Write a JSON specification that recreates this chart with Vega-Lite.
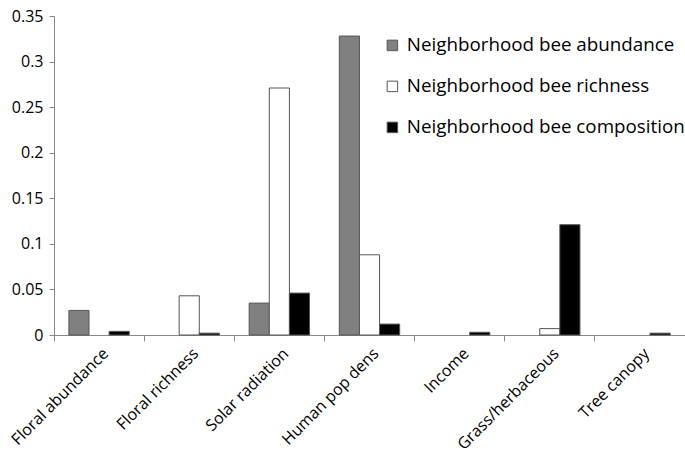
{
  "$schema": "https://vega.github.io/schema/vega-lite/v6.json",
  "width": 631,
  "height": 319,
  "autosize": {"type": "none"},
  "padding": {"left": 54, "top": 16, "right": 0, "bottom": 118},
  "background": "white",
  "config": {"view": {"stroke": null}, "font": "Open Sans"},
  "data": {
    "values": [
      {"factor": "Floral abundance", "series": "Neighborhood bee abundance", "value": 0.027},
      {"factor": "Floral abundance", "series": "Neighborhood bee richness", "value": 0},
      {"factor": "Floral abundance", "series": "Neighborhood bee composition", "value": 0.004},
      {"factor": "Floral richness", "series": "Neighborhood bee abundance", "value": 0},
      {"factor": "Floral richness", "series": "Neighborhood bee richness", "value": 0.043},
      {"factor": "Floral richness", "series": "Neighborhood bee composition", "value": 0.002},
      {"factor": "Solar radiation", "series": "Neighborhood bee abundance", "value": 0.035},
      {"factor": "Solar radiation", "series": "Neighborhood bee richness", "value": 0.271},
      {"factor": "Solar radiation", "series": "Neighborhood bee composition", "value": 0.046},
      {"factor": "Human pop dens", "series": "Neighborhood bee abundance", "value": 0.328},
      {"factor": "Human pop dens", "series": "Neighborhood bee richness", "value": 0.088},
      {"factor": "Human pop dens", "series": "Neighborhood bee composition", "value": 0.012},
      {"factor": "Income", "series": "Neighborhood bee abundance", "value": 0},
      {"factor": "Income", "series": "Neighborhood bee richness", "value": 0},
      {"factor": "Income", "series": "Neighborhood bee composition", "value": 0.003},
      {"factor": "Grass/herbaceous", "series": "Neighborhood bee abundance", "value": 0},
      {"factor": "Grass/herbaceous", "series": "Neighborhood bee richness", "value": 0.007},
      {"factor": "Grass/herbaceous", "series": "Neighborhood bee composition", "value": 0.121},
      {"factor": "Tree canopy", "series": "Neighborhood bee abundance", "value": 0},
      {"factor": "Tree canopy", "series": "Neighborhood bee richness", "value": 0},
      {"factor": "Tree canopy", "series": "Neighborhood bee composition", "value": 0.002}
    ]
  },
  "mark": {"type": "bar", "strokeWidth": 1},
  "encoding": {
    "x": {
      "field": "factor",
      "type": "nominal",
      "sort": ["Floral abundance", "Floral richness", "Solar radiation", "Human pop dens", "Income", "Grass/herbaceous", "Tree canopy"],
      "scale": {"paddingInner": 0, "paddingOuter": 0},
      "axis": {
        "title": null,
        "bandPosition": 0,
        "labelOffset": 1,
        "labelAngle": -45,
        "labelFontSize": 16,
        "labelColor": "black",
        "domainColor": "#888",
        "tickColor": "#888",
        "tickSize": 6,
        "labelPadding": 4
      }
    },
    "xOffset": {
      "field": "series",
      "type": "nominal",
      "sort": ["Neighborhood bee abundance", "Neighborhood bee richness", "Neighborhood bee composition"],
      "scale": {"paddingInner": 0, "paddingOuter": 0.74}
    },
    "y": {
      "field": "value",
      "type": "quantitative",
      "scale": {"domain": [0, 0.35], "nice": false},
      "axis": {
        "title": null,
        "values": [0, 0.05, 0.1, 0.15, 0.2, 0.25, 0.3, 0.35],
        "format": "~g",
        "grid": false,
        "labelFontSize": 16,
        "labelColor": "black",
        "domainColor": "#888",
        "tickColor": "#888",
        "tickSize": 5,
        "labelPadding": 6
      }
    },
    "stroke": {
      "condition": {"test": "datum.value == 0", "value": null},
      "value": "#555"
    },
    "fill": {
      "field": "series",
      "type": "nominal",
      "sort": ["Neighborhood bee abundance", "Neighborhood bee richness", "Neighborhood bee composition"],
      "scale": {
        "domain": ["Neighborhood bee abundance", "Neighborhood bee richness", "Neighborhood bee composition"],
        "range": ["#808080", "#ffffff", "#000000"]
      },
      "legend": {
        "title": null,
        "orient": "none",
        "legendX": 329,
        "legendY": 20,
        "symbolType": "square",
        "symbolSize": 110,
        "symbolStrokeColor": "#555",
        "symbolStrokeWidth": 1,
        "labelFontSize": 18.8,
        "labelColor": "black",
        "labelLimit": 320,
        "labelOffset": 5,
        "rowPadding": 21
      }
    }
  }
}
